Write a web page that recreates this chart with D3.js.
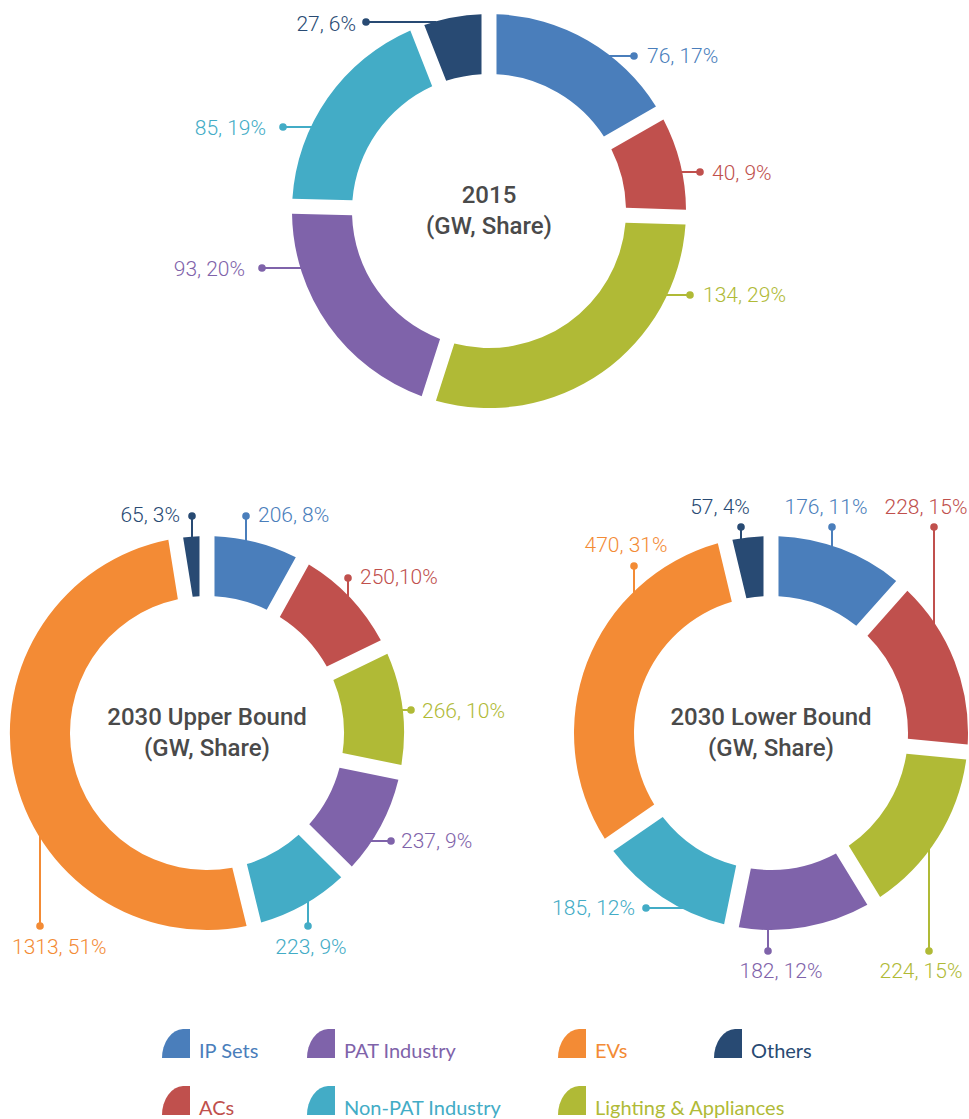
<!DOCTYPE html>
<html><head><meta charset="utf-8">
<script src="https://cdn.jsdelivr.net/npm/d3@7"></script>
<style>html,body{margin:0;padding:0;background:#fff;}svg{display:block;}</style>
</head><body>
<svg id="chart" width="969" height="1119"></svg>
<script>
// ---------- data ----------
const categories = ["IP Sets","ACs","Lighting & Appliances","PAT Industry","Non-PAT Industry","EVs","Others"];
const colors = ["#4a7ebb","#c0504d","#b0ba36","#7f63aa","#43acc6","#f38b35","#284a73"];

const values2015 = [76,40,134,93,85,null,27];
const shares2015 = [17,9,29,20,19,null,6];
const valuesUpper = [206,250,266,237,223,1313,65];
const sharesUpper = [8,10,10,9,9,51,3];
const valuesLower = [176,228,224,182,185,470,57];
const sharesLower = [11,15,15,12,12,31,4];

const titles = [["2015","(GW, Share)"],["2030 Upper Bound","(GW, Share)"],["2030 Lower Bound","(GW, Share)"]];
const legendRow1 = ["IP Sets","PAT Industry","EVs","Others"];
const legendRow2 = ["ACs","Non-PAT Industry","Lighting & Appliances"];

// ---------- layout (not data) ----------
const R = 197, r = 137;
const charts = [
  {cx:489, cy:211, values:values2015, shares:shares2015, title:titles[0], sep:[", ",", ",", ",", ",", ",", ",", "],
   lab:[ // dot dx, dy, leader, text dx, dy, anchor
    [145,-155,"h",13,7,"start"],[211,-39,"h",12,8,"start"],[201,84,"h",13,7,"start"],
    [-227,57,"h",-17,8,"end"],[-206,-84,"h",-17,8,"end"],null,[-123,-189,"h",-10,9,"end"]]},
  {cx:207, cy:733, values:valuesUpper, shares:sharesUpper, title:titles[1], sep:[", ",",",", ",", ",", ",", ",", "],
   lab:[
    [39,-217,"v",12,6,"start"],[141,-155,"v",12,6,"start"],[204,-23,"h",11,8,"start"],
    [184,108,"h",10,7,"start"],[101,193,"v",3,28,"middle"],[-167,193,"v",-28,28,"start"],[-15,-217,"v",-12,6,"end"]]},
  {cx:771, cy:733, values:valuesLower, shares:sharesLower, title:titles[2], sep:[", ",", ",", ",", ",", ",", ",", "],
   lab:[
    [61,-206,"v",-6,-13,"middle"],[163,-206,"v",-8,-13,"middle"],[158,218,"v",-8,27,"middle"],
    [-3,218,"v",13,27,"middle"],[-125,175,"h",-11,7,"end"],[-137,-167,"v",-8,-14,"middle"],[-30,-206,"v",-21,-13,"middle"]]}
];

const svg = d3.select("#chart");
const pie = d3.pie().sort(null).value(d => d.value).startAngle(0).endAngle(2*Math.PI);
const arc = d3.arc().innerRadius(r).outerRadius(R).padAngle(0.15).padRadius(100);

charts.forEach(c => {
  const rows = categories.map((cat,i) => ({cat, i, value:c.values[i], share:c.shares[i]})).filter(d => d.value != null);
  const g = svg.append("g").attr("transform", `translate(${c.cx},${c.cy})`);
  const arcs = pie(rows);

  // leader lines (under arcs)
  const lg = g.append("g");
  rows.forEach(d => {
    const L = c.lab[d.i];
    const [dx,dy,type,tx,ty,anchor] = L;
    let x2, y2;
    if (type === "h") { y2 = dy; x2 = Math.sign(dx)*(Math.sqrt(R*R-dy*dy)-3); }
    else { x2 = dx; y2 = Math.sign(dy)*(Math.sqrt(R*R-dx*dx)-3); }
    lg.append("line").attr("x1",dx).attr("y1",dy).attr("x2",x2).attr("y2",y2)
      .attr("stroke",colors[d.i]).attr("stroke-width",2);
    lg.append("circle").attr("cx",dx).attr("cy",dy).attr("r",3.8).attr("fill",colors[d.i]);
    lg.append("text").attr("x",dx+tx).attr("y",dy+ty).attr("text-anchor",anchor)
      .attr("font-family","Roboto, 'DejaVu Sans', sans-serif").attr("font-size",21).attr("font-weight",300)
      .attr("fill",colors[d.i]).text(`${d.value}${c.sep[d.i]}${d.share}%`);
  });

  g.append("g").selectAll("path").data(arcs).join("path")
    .attr("d", arc).attr("fill", d => colors[d.data.i]);

  const t = g.append("text").attr("text-anchor","middle")
    .attr("font-family","Roboto, sans-serif").attr("font-size",24).attr("font-weight",500).attr("fill","#4a4a4a");
  t.append("tspan").attr("x",0).attr("y",-8).text(c.title[0]);
  t.append("tspan").attr("x",0).attr("y",23).text(c.title[1]);
});

// ---------- legend ----------
const legendX = [162, 307, 558, 714];
const legendY = [1058, 1115];
function icon(x, y, col) {
  const w = 28, h = 29;
  const p = `M${x},${y} A${w-6},${h} 0 0 1 ${x+w-7},${y-h} L${x+w},${y-h} L${x+w},${y} Z`;
  svg.append("path").attr("d", p).attr("fill", col);
}
[legendRow1, legendRow2].forEach((row, ri) => {
  row.forEach((name, j) => {
    const i = categories.indexOf(name);
    const x = legendX[j], y = legendY[ri];
    icon(x, y, colors[i]);
    svg.append("text").attr("x", x + 37).attr("y", y)
      .attr("font-family","Lato, 'Open Sans', sans-serif").attr("font-size",20)
      .attr("fill", colors[i]).text(name);
  });
});
</script>
</body></html>
